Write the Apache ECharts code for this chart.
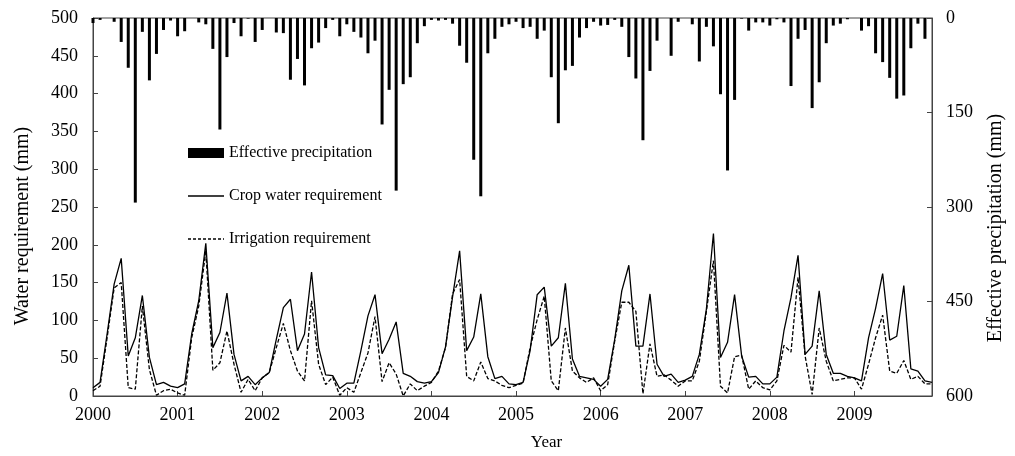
<!DOCTYPE html>
<html>
<head>
<meta charset="utf-8">
<script src="https://cdn.jsdelivr.net/npm/echarts@6/dist/echarts.min.js"></script>
<style>
html,body{margin:0;padding:0;background:#fff;}
#chart{width:1015px;height:456px;}
</style>
</head>
<body>
<div id="chart"></div>
<script>
// Monthly data, Jan 2000 .. Dec 2009 (120 months)
var years = ['2000','2001','2002','2003','2004','2005','2006','2007','2008','2009'];

var effectivePrecipitation = [
  8,3,0,6,38,79,293,22,99,57,19,4,
  29,21,0,7,10,49,177,62,8,29,1,38,
  19,0,23,24,98,65,107,48,39,16,3,29,
  10,22,31,56,36,169,114,274,105,94,40,13,
  3,4,3,9,44,71,225,283,56,33,14,10,
  6,16,14,33,20,94,167,83,76,31,16,6,
  12,11,3,14,62,96,194,84,36,0,60,6,
  0,10,69,14,45,121,242,130,1,20,7,7,
  12,2,7,108,33,19,143,102,40,12,9,2,
  0,20,13,56,70,95,128,123,48,9,33,0
];

var cropWaterRequirement = [
  11,18,82,148,182,53,77,133,51,15,18,13,
  11,16,82,126,202,64,84,136,55,20,26,15,
  24,31,75,117,128,60,82,164,64,28,27,10,
  17,17,60,106,134,56,75,98,30,26,19,17,
  19,31,65,131,192,60,78,135,52,23,26,16,
  15,18,60,134,144,66,77,149,49,26,24,22,
  13,22,75,139,173,66,66,135,42,26,29,18,
  21,26,55,115,215,51,71,134,53,25,26,16,
  16,25,86,130,186,55,66,139,55,30,30,26,
  24,20,77,116,162,74,79,146,36,33,20,18
];

var irrigationRequirement = [
  7,13,77,143,150,11,9,119,35,1,7,9,
  4,1,77,119,192,34,44,86,42,5,22,7,
  24,31,64,96,60,33,20,126,42,15,25,1,
  11,5,31,57,105,19,44,29,0,16,7,13,
  18,33,64,135,154,26,20,45,23,20,14,11,
  14,17,64,101,132,20,7,90,33,24,18,24,
  7,15,73,124,124,112,3,69,26,28,21,13,
  20,20,46,112,179,13,4,52,54,9,20,11,
  8,20,67,58,157,53,2,90,46,20,22,24,
  24,9,42,77,107,33,30,47,22,26,16,16
];

var months = [];
years.forEach(function (y) {
  for (var m = 1; m <= 12; m++) months.push(y + '-' + (m < 10 ? '0' + m : m));
});

var FONT = 'Liberation Serif';
var AX = '#444';
var SOLID_ICON = 'path://M0,0 H36 V1.3 H0 Z';
var DASH_ICON = 'path://M0,0 h3 v1.3 h-3 Z M5,0 h3 v1.3 h-3 Z M10,0 h3 v1.3 h-3 Z M15,0 h3 v1.3 h-3 Z M20,0 h3 v1.3 h-3 Z M25,0 h3 v1.3 h-3 Z M30,0 h3 v1.3 h-3 Z M35,0 h1 v1.3 h-1 Z';

var chart = echarts.init(document.getElementById('chart'), null, {renderer: 'canvas'});
chart.setOption({
  animation: false,
  backgroundColor: '#fff',
  grid: {left: 93, right: 83, top: 18, bottom: 60, show: true, borderColor: AX, borderWidth: 1},
  legend: {
    orient: 'vertical', left: 188, top: 145, itemGap: 27, padding: 0,
    itemWidth: 36, itemHeight: 10,
    textStyle: {fontFamily: FONT, fontSize: 16, color: '#000'},
    data: [
      {name: 'Effective precipitation', icon: 'rect'},
      {name: 'Crop water requirement', icon: SOLID_ICON},
      {name: 'Irrigation requirement', icon: DASH_ICON}
    ]
  },
  xAxis: {
    type: 'category', data: months, boundaryGap: false,
    name: 'Year', nameLocation: 'middle', nameGap: 38,
    nameTextStyle: {fontFamily: FONT, fontSize: 17, color: '#000', padding: [0, 0, 0, 68]},
    axisLine: {lineStyle: {color: AX, width: 1}},
    axisTick: {inside: true, length: 5, lineStyle: {color: AX},
      interval: function (i) { return i % 12 === 0; }},
    axisLabel: {fontFamily: FONT, fontSize: 18, color: '#000', margin: 10,
      interval: function (i) { return i % 12 === 0; },
      formatter: function (v) { return v.slice(0, 4); }},
    splitLine: {show: false}
  },
  yAxis: [
    {
      type: 'value', min: 0, max: 500, interval: 50, position: 'left',
      name: 'Water requirement (mm)', nameLocation: 'middle', nameGap: 60,
      nameTextStyle: {fontFamily: FONT, fontSize: 20, color: '#000', padding: [0, 38, 0, 0]},
      axisLine: {show: true, lineStyle: {color: AX}},
      axisTick: {show: true, inside: true, length: 5, lineStyle: {color: AX}},
      axisLabel: {fontFamily: FONT, fontSize: 18, color: '#000', margin: 15},
      splitLine: {show: false}
    },
    {
      type: 'value', min: 0, max: 600, interval: 150, inverse: true, position: 'right',
      name: 'Effective precipitation (mm)', nameLocation: 'middle', nameGap: 54,
      nameRotate: 90,
      nameTextStyle: {fontFamily: FONT, fontSize: 20, color: '#000', padding: [0, 42, 0, 0]},
      axisLine: {show: true, lineStyle: {color: AX}},
      axisTick: {show: true, inside: true, length: 5, lineStyle: {color: AX}},
      axisLabel: {fontFamily: FONT, fontSize: 18, color: '#000', margin: 14},
      splitLine: {show: false}
    }
  ],
  series: [
    {
      name: 'Effective precipitation', type: 'bar', yAxisIndex: 1,
      data: effectivePrecipitation, barWidth: 3,
      itemStyle: {color: '#000'}
    },
    {
      name: 'Crop water requirement', type: 'line', yAxisIndex: 0,
      data: cropWaterRequirement, symbol: 'none',
      lineStyle: {color: '#000', width: 1.3, type: 'solid'},
      itemStyle: {color: '#000'}
    },
    {
      name: 'Irrigation requirement', type: 'line', yAxisIndex: 0,
      data: irrigationRequirement, symbol: 'none',
      lineStyle: {color: '#000', width: 1.3, type: [4, 2]},
      itemStyle: {color: '#000'}
    }
  ]
});
</script>
</body>
</html>
